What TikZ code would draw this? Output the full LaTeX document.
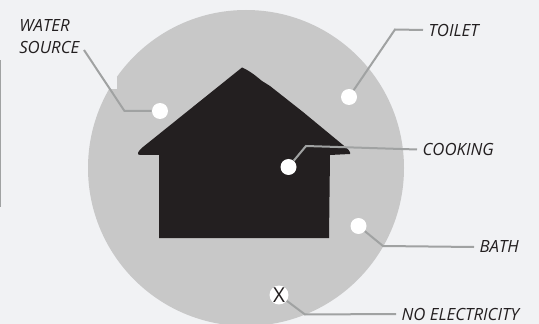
\documentclass[tikz,border=0pt]{standalone}
\usepackage{xcolor}
\usepackage{tikz}
\usepackage{fontspec}
\setmainfont{Open Sans}
\definecolor{mapbg}{HTML}{F1F2F4}
\definecolor{mapgray}{HTML}{C8C8C8}
\definecolor{linegray}{HTML}{A0A2A2}
\definecolor{housedark}{HTML}{231F20}
\tikzset{
  dot/.style={circle,fill=white,minimum size=12pt,inner sep=0pt},
  tag/.style={font=\itshape\fontsize{12.6}{17}\selectfont,text=housedark,inner xsep=4pt,inner ysep=0pt,align=left},
  lead/.style={linegray,line width=1.5pt}
}

\begin{document}
\begin{tikzpicture}[x=0.75pt,y=-0.75pt]
  \useasboundingbox (0,0) rectangle (539,324);
  \fill[mapbg] (0,0) rectangle (539,324);
  \fill[linegray] (0,60) rectangle (1,207);
  % disc with its notch
  \begin{scope}
    \clip (0,0) rectangle (539,324);
    \fill[mapgray] (246,168) circle[radius=158];
    \fill[mapbg] (117,89) -- (117,77) -- (105,77) -- (105,89) -- cycle;
  \end{scope}
  % house
  \fill[housedark] (242,67.5) .. controls (250,71) and (256,76) .. (262,81)
    -- (270,86) -- (303,112) -- (343,145) .. controls (348,149) and (351,152) .. (350,154)
    -- (330,155) -- (329,238) -- (159,238) -- (159,155) -- (140,155)
    .. controls (136,155) and (138,151) .. (143,147) -- cycle;
  % labels
  \node[tag,anchor=north west,inner sep=0pt] (lblWater) at (19,19) {WATER\\SOURCE};
  \node[tag,anchor=west] (lblToilet) at (423,30) {TOILET};
  \node[tag,anchor=west] (lblCooking) at (417,149.5) {COOKING};
  \node[tag,anchor=west] (lblBath) at (474,247) {BATH};
  \node[tag,anchor=west] (lblPower) at (396,314) {NO ELECTRICITY};
  % dots
  \node[dot] (dotWater) at (160,111) {};
  \node[dot] (dotToilet) at (349,97) {};
  \node[dot] (dotCooking) at (288.5,167) {};
  \node[dot] (dotBath) at (358.5,226) {};
  \node[dot,font=\fontsize{15.5}{15.5}\selectfont,text=housedark] (dotPower) at (279,295) {X};
  % leaders
  \coordinate (endWater) at (84,50);
  \coordinate (bendWater) at (124.5,111);
  \coordinate (bendToilet) at (395,29.5);
  \coordinate (bendCooking) at (306,146);
  \coordinate (bendBath) at (383,246);
  \coordinate (bendPower) at (305,314.5);
  \draw[lead] (endWater) -- (bendWater) -- (dotWater);
  \draw[lead] (dotToilet) -- (bendToilet) -- (lblToilet.west);
  \draw[lead] (dotCooking) -- (bendCooking) -- (lblCooking.west);
  \draw[lead] (dotBath) -- (bendBath) -- (lblBath.west);
  \draw[lead] (dotPower) -- (bendPower) -- (lblPower.west);
\end{tikzpicture}
\end{document}
